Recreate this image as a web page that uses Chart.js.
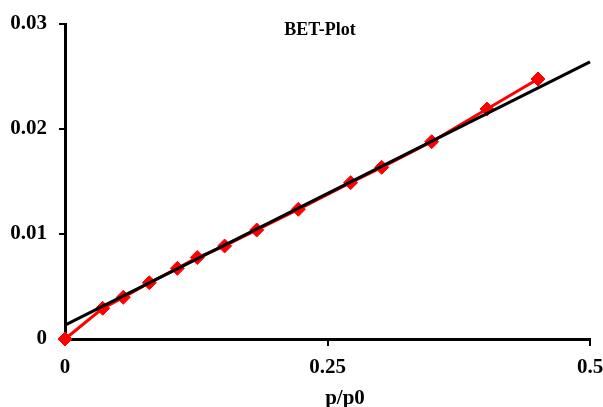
<!DOCTYPE html>
<html>
<head>
<meta charset="utf-8">
<script src="https://cdn.jsdelivr.net/npm/chart.js@4"></script>
<style>
  body { margin: 0; background: #fff; }
  #wrap { width: 603px; height: 407px; }
</style>
</head>
<body>
<div id="wrap"><canvas id="betChart" width="603" height="407"></canvas></div>
<script>
// measured points (p/p0 vs BET term)
const pRatio = [0, 0.0359, 0.0555, 0.0803, 0.107, 0.126, 0.152, 0.1826, 0.2222, 0.272, 0.3016, 0.3492, 0.4019, 0.4505];
const betValues = [0, 0.00292, 0.00397, 0.00536, 0.00673, 0.00776, 0.00886, 0.01038, 0.01235, 0.01489, 0.01635, 0.01879, 0.0219, 0.02476];

// linear fit line end points
const fitX = [0, 0.5];
const fitY = [0.00133, 0.0264];

const xTickLabels = ['0', '0.25', '0.5'];
const yTickLabels = ['0', '0.01', '0.02', '0.03'];

const chartTitle = 'BET-Plot';
const xAxisTitle = 'p/p0';

const serif = '"Liberation Serif", "Times New Roman", serif';

const textPlugin = {
    id: 'textPlugin',
    afterDraw(chart) {
        const ctx = chart.ctx;
        ctx.save();
        ctx.fillStyle = '#000';
        ctx.textAlign = 'center';
        ctx.textBaseline = 'alphabetic';
        ctx.font = 'bold 18px ' + serif;
        ctx.fillText(chartTitle, 320, 35);
        ctx.font = 'bold 21px ' + serif;
        ctx.fillText(xAxisTitle, 345, 404);
        ctx.restore();
    }
};

new Chart(document.getElementById('betChart').getContext('2d'), {
    type: 'scatter',
    data: {
        datasets: [{
            label: 'fit',
            data: fitX.map((x, i) => ({ x, y: fitY[i] })),
            showLine: true,
            borderColor: '#000',
            borderWidth: 3,
            pointRadius: 0,
            clip: false,
            order: 0
        }, {
            label: 'BET',
            data: pRatio.map((x, i) => ({ x, y: betValues[i] })),
            showLine: true,
            borderColor: '#ff0000',
            backgroundColor: '#ff0000',
            borderWidth: 3,
            pointStyle: 'rectRot',
            pointRadius: 7,
            pointBorderWidth: 1,
            clip: false,
            order: 1
        }]
    },
    options: {
        responsive: false,
        animation: false,
        layout: { padding: { top: 24, right: 13, left: 0, bottom: 0 } },
        plugins: {
            legend: { display: false },
            tooltip: { enabled: false }
        },
        scales: {
            x: {
                type: 'linear',
                min: 0,
                max: 0.5,
                afterFit: s => { s.height = 68; s.paddingRight = 0; s.paddingLeft = 0; },
                afterBuildTicks: s => { s.ticks = [0, 0.25, 0.5].map(v => ({ value: v })); },
                ticks: {
                    color: '#000',
                    font: { family: serif, size: 21, weight: 'bold' },
                    padding: 9,
                    maxRotation: 0,
                    callback: (v, i) => xTickLabels[i]
                },
                grid: { drawOnChartArea: false, drawTicks: true, tickLength: 7, color: '#000', lineWidth: 2 },
                border: { display: true, color: '#000', width: 3 }
            },
            y: {
                type: 'linear',
                min: 0,
                max: 0.03,
                afterFit: s => { s.width = 65; s.paddingTop = 0; s.paddingBottom = 0; },
                afterBuildTicks: s => { s.ticks = [0, 0.01, 0.02, 0.03].map(v => ({ value: v })); },
                ticks: {
                    color: '#000',
                    font: { family: serif, size: 21, weight: 'bold' },
                    padding: 12,
                    callback: (v, i) => yTickLabels[i]
                },
                grid: { drawOnChartArea: false, drawTicks: true, tickLength: 6, color: '#000', lineWidth: 2 },
                border: { display: true, color: '#000', width: 3 }
            }
        }
    },
    plugins: [textPlugin]
});
</script>
</body>
</html>
